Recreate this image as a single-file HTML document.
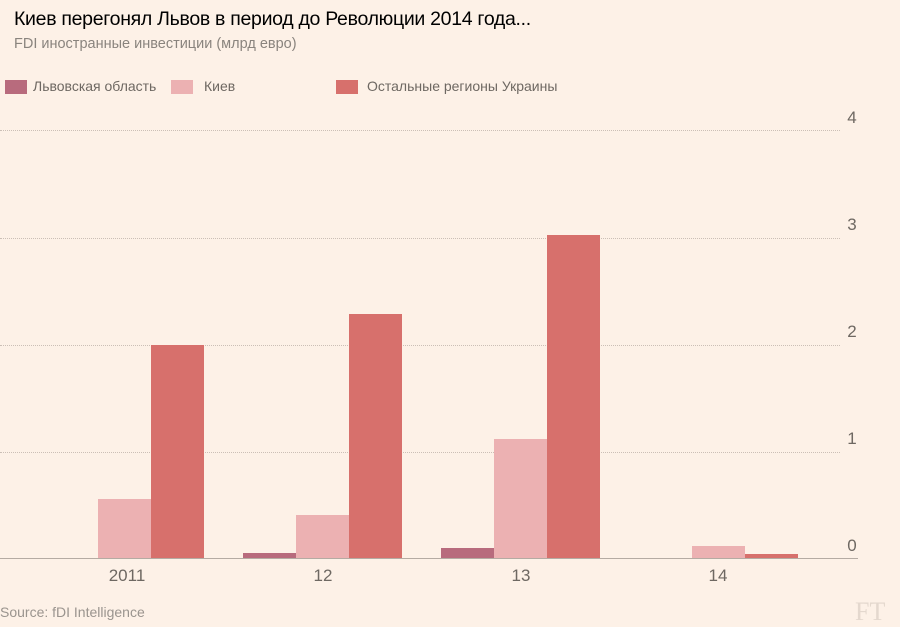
<!DOCTYPE html>
<html><head><meta charset="utf-8"><style>
body{margin:0;width:900px;height:625px;background:#fdf1e7;font-family:"Liberation Sans","DejaVu Sans",sans-serif;position:relative;overflow:hidden}
.a{position:absolute;white-space:nowrap}
.grid{position:absolute;left:0;width:840px;border-top:1px dotted #cbbfb6}
.bar{position:absolute}
.L{background:#b86b7d}.K{background:#ecb1b2}.O{background:#d7706c}
.t{position:absolute;left:845px;font-size:17px;color:#6e6862;width:14px;text-align:center}
.y{position:absolute;top:566px;font-size:17px;color:#6e6862;width:80px;text-align:center}
.sw{position:absolute;top:80px;width:22px;height:14px}
</style></head><body>
<div class="a" style="left:14px;top:8px;font-size:19.5px;letter-spacing:-0.3px;color:#000">Киев перегонял Львов в период до Революции 2014 года...</div>
<div class="a" style="left:14px;top:36px;font-size:14.5px;color:#8a847e">FDI иностранные инвестиции (млрд евро)</div>
<div class="sw L" style="left:5px"></div><div class="a" style="left:33px;top:78px;font-size:14px;color:#6e6862">Львовская область</div>
<div class="sw K" style="left:171px"></div><div class="a" style="left:204px;top:78px;font-size:14px;color:#6e6862">Киев</div>
<div class="sw O" style="left:336px"></div><div class="a" style="left:367px;top:78px;font-size:14px;color:#6e6862">Остальные регионы Украины</div>
<div class="grid" style="top:130px"></div>
<div class="grid" style="top:238px"></div>
<div class="grid" style="top:345px"></div>
<div class="grid" style="top:452px"></div>
<div class="t" style="top:108px">4</div><div class="t" style="top:215px">3</div><div class="t" style="top:322px">2</div><div class="t" style="top:429px">1</div><div class="t" style="top:536px">0</div>
<div class="bar K" style="left:98px;width:53px;top:499px;height:59px"></div>
<div class="bar O" style="left:151px;width:53px;top:345px;height:213px"></div>
<div class="bar L" style="left:243px;width:53px;top:553px;height:5px"></div>
<div class="bar K" style="left:296px;width:53px;top:515px;height:43px"></div>
<div class="bar O" style="left:349px;width:53px;top:314px;height:244px"></div>
<div class="bar L" style="left:441px;width:53px;top:548px;height:10px"></div>
<div class="bar K" style="left:494px;width:53px;top:439px;height:119px"></div>
<div class="bar O" style="left:547px;width:53px;top:235px;height:323px"></div>
<div class="bar K" style="left:692px;width:53px;top:546px;height:12px"></div>
<div class="bar O" style="left:745px;width:53px;top:554px;height:4px"></div>
<div style="position:absolute;left:0;top:558px;width:858px;border-top:1px solid #b5aba3"></div>
<div class="y" style="left:87px">2011</div><div class="y" style="left:283px">12</div><div class="y" style="left:481px">13</div><div class="y" style="left:678px">14</div>
<div class="a" style="left:0;top:604px;font-size:14px;color:#9a948e">Source: fDI Intelligence</div>
<div class="a" style="left:855px;top:597px;font-size:26px;color:#e4d8ce;font-family:'Liberation Serif',serif">FT</div>
</body></html>
